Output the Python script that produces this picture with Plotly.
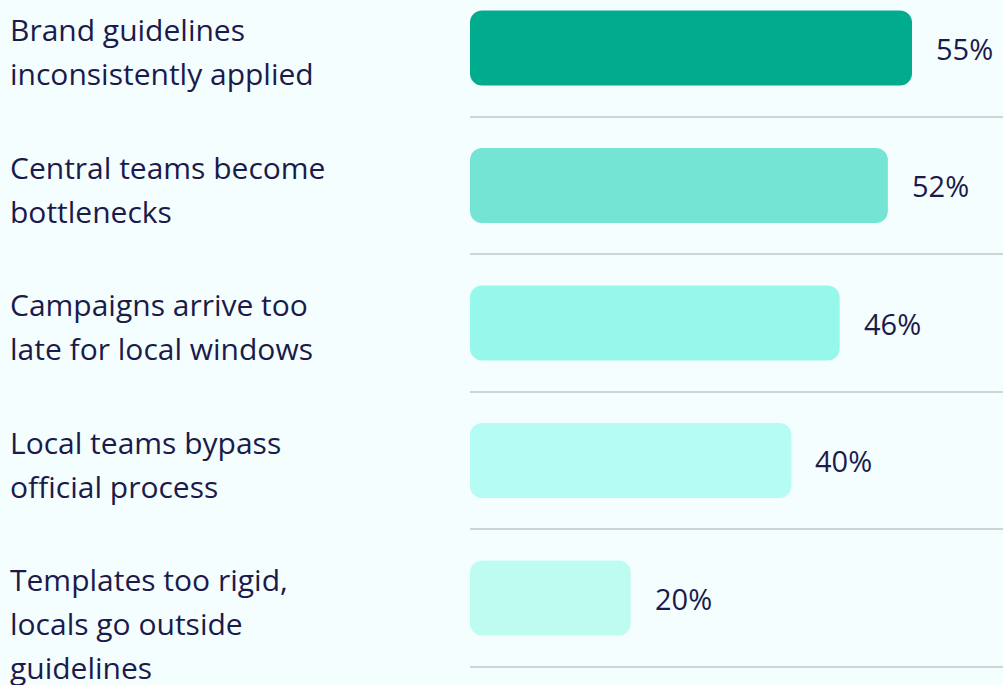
import plotly.graph_objects as go

categories = [
    "Brand guidelines<br>inconsistently applied",
    "Central teams become<br>bottlenecks",
    "Campaigns arrive too<br>late for local windows",
    "Local teams bypass<br>official process",
    "Templates too rigid,<br>locals go outside<br>guidelines",
]
values = [55, 52, 46, 40, 20]
value_labels = ["55%", "52%", "46%", "40%", "20%"]
colors = ["#00ab8e", "#74e5d4", "#96f8ea", "#b5fdf4", "#befcf2"]

W, H = 1003, 685
ROW = 137.5
TOP_CENTER = 48
BAR_PX = 75
x0_px = 470
px_per_unit = 442 / 55

positions = list(range(len(categories)))
y_top = -TOP_CENTER / ROW
y_bot = y_top + H / ROW
plot_w = W - x0_px
x_max = plot_w / px_per_unit

TEXT = "#1b1b4b"
FONT = "Open Sans"

fig = go.Figure()
fig.add_trace(go.Bar(
    x=values, base=[0] * len(values), y=positions, orientation="h",
    marker=dict(color=colors, line=dict(width=0), cornerradius=12),
    width=BAR_PX / ROW, hoverinfo="skip",
))

annotations = []
for i, (cat, v, lab) in enumerate(zip(categories, values, value_labels)):
    lines = cat.split("<br>")
    for j, line in enumerate(lines):
        annotations.append(dict(
            xref="paper", yref="y", x=8 / W, y=i,
            xanchor="left", yanchor="middle",
            yshift=(BAR_PX / 2 - 19) - 44 * j,
            text=line, showarrow=False,
            font=dict(family=FONT, size=30, color=TEXT),
        ))
    annotations.append(dict(
        xref="x", yref="y", x=v, y=i,
        xanchor="left", yanchor="middle", xshift=22, yshift=0,
        text=lab, showarrow=False,
        font=dict(family=FONT, size=29, color=TEXT),
    ))

fig.update_layout(
    width=W, height=H,
    margin=dict(l=0, r=0, t=0, b=0),
    paper_bgcolor="#f5fefe", plot_bgcolor="#f5fefe",
    showlegend=False,
    xaxis=dict(domain=[x0_px / W, 1], range=[0, x_max], visible=False, fixedrange=True),
    yaxis=dict(range=[y_bot, y_top], tickvals=[p + 0.5 for p in positions],
               showticklabels=False, showgrid=True, gridcolor="#cdd5d5", gridwidth=2,
               zeroline=False, showline=False, ticks="", fixedrange=True),
    annotations=annotations,
)

fig.write_html("out.html")
